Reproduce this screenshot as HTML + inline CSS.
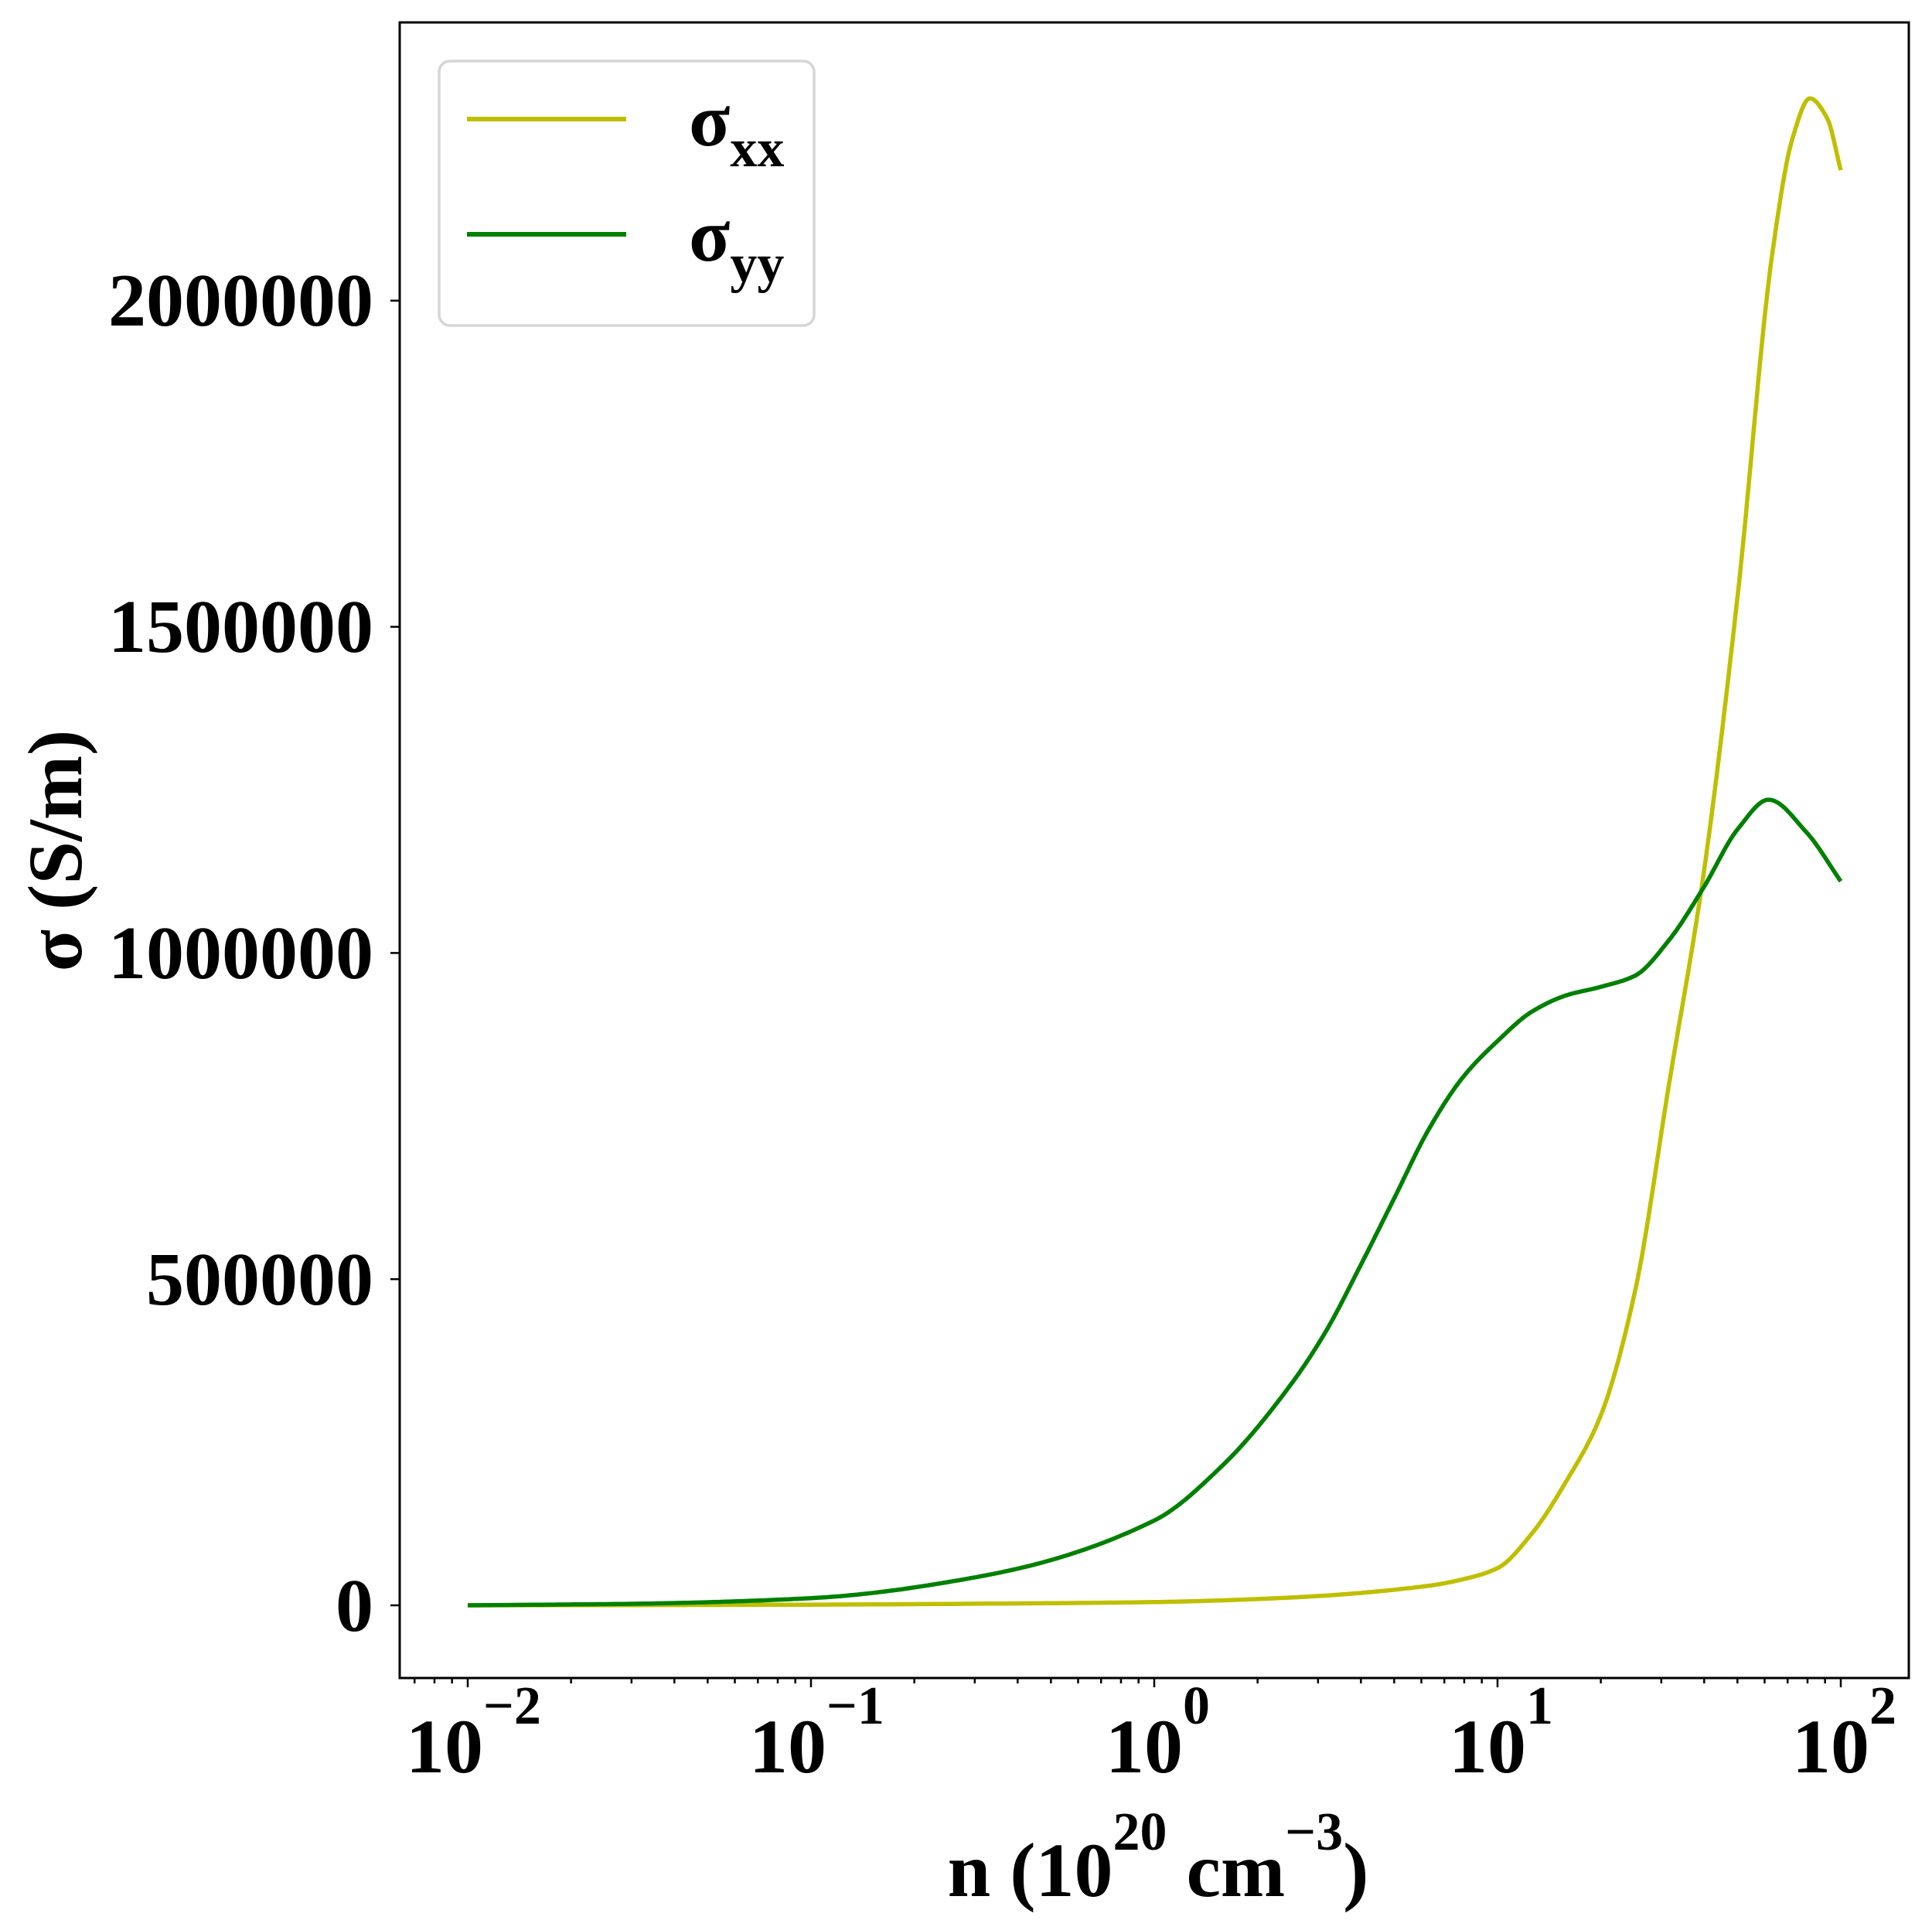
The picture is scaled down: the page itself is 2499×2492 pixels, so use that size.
<!DOCTYPE html>
<html><head><meta charset="utf-8"><style>
html,body{margin:0;padding:0;background:#fff}
svg{display:block}
text{font-family:"Liberation Serif",serif;font-weight:bold;fill:#000}
</style></head><body>
<svg id="s" width="2499" height="2492" viewBox="0 0 2499 2492" xmlns="http://www.w3.org/2000/svg">
<rect x="0" y="0" width="2499" height="2492" fill="#fff"/>
<g id="curves"></g>
<rect x="517" y="29" width="1952" height="2141" fill="none" stroke="#000" stroke-width="3"/>
<g id="ticks" stroke="#000" stroke-width="2.5"></g>
<g font-size="98" text-anchor="end">
<text x="483" y="2109">0</text>
<text x="483" y="1687">500000</text>
<text x="483" y="1265">1000000</text>
<text x="483" y="843">1500000</text>
<text x="483" y="421">2000000</text>
</g>
<g font-size="100">
<text x="525" y="2292">10<tspan font-size="70" dy="-63">−2</tspan></text>
<text x="969" y="2292">10<tspan font-size="70" dy="-63">−1</tspan></text>
<text x="1430" y="2292">10<tspan font-size="70" dy="-63">0</tspan></text>
<text x="1874" y="2292">10<tspan font-size="70" dy="-63">1</tspan></text>
<text x="2318" y="2292">10<tspan font-size="70" dy="-63">2</tspan></text>
</g>
<text x="1498" y="2452" font-size="100" text-anchor="middle">n (10<tspan font-size="70" dy="-60">20</tspan><tspan dy="60"> cm</tspan><tspan font-size="70" dy="-60">−3</tspan><tspan dy="60">)</tspan></text>
<text transform="translate(105,1100) rotate(-90)" font-size="100" text-anchor="middle">σ (S/m)</text>
<rect x="568" y="79" width="485" height="342" rx="14" fill="#fff" fill-opacity="0.8" stroke="#d6d6d6" stroke-width="3.5"/>
<line x1="604" y1="154" x2="810" y2="154" stroke="#bfbf00" stroke-width="6"/>
<line x1="604" y1="303" x2="810" y2="303" stroke="#008000" stroke-width="6"/>
<text x="891" y="188" font-size="98">σ<tspan font-size="70" dy="27">xx</tspan></text>
<text x="891" y="337" font-size="98">σ<tspan font-size="70" dy="27">yy</tspan></text>
</svg>
<script>
var X0=605,DEC=444,Y0=2076,YS=421.8/500000;
function px(l){return X0+(l+2)*DEC}
function py(v){return Y0-v*YS}
var ns="http://www.w3.org/2000/svg";
var t=document.getElementById('ticks');
function ln(x1,y1,x2,y2){var e=document.createElementNS(ns,'line');e.setAttribute('x1',x1);e.setAttribute('y1',y1);e.setAttribute('x2',x2);e.setAttribute('y2',y2);t.appendChild(e);}
for(var d=-3;d<=2;d++){for(var k=1;k<10;k++){var l=d+Math.log10(k);var x=px(l);if(x<518||x>2468)continue;
 if(k==1)ln(x,2170,x,2182);else ln(x,2170,x,2177);}}
for(var i=0;i<5;i++){var y=Y0-i*421.8;ln(505,y,517,y);}
function mono(pts){
 var n=pts.length,xs=pts.map(function(p){return p[0]}),ys=pts.map(function(p){return p[1]});
 var dl=[],m=[];
 for(var i=0;i<n-1;i++)dl.push((ys[i+1]-ys[i])/(xs[i+1]-xs[i]));
 m[0]=dl[0];m[n-1]=dl[n-2];
 for(var i=1;i<n-1;i++){ if(dl[i-1]*dl[i]<=0)m[i]=0; else{var w1=2*(xs[i+1]-xs[i])+(xs[i]-xs[i-1]),w2=(xs[i+1]-xs[i])+2*(xs[i]-xs[i-1]);m[i]=(w1+w2)/(w1/dl[i-1]+w2/dl[i]);}}
 var out=[];
 for(var i=0;i<n-1;i++){var h=xs[i+1]-xs[i];for(var s=0;s<30;s++){var u=s/30,h00=2*u*u*u-3*u*u+1,h10=u*u*u-2*u*u+u,h01=-2*u*u*u+3*u*u,h11=u*u*u-u*u;
  out.push([xs[i]+u*h,h00*ys[i]+h10*h*m[i]+h01*ys[i+1]+h11*h*m[i+1]]);}}
 out.push([xs[n-1],ys[n-1]]);return out;}
function path(pts,col){var q=mono(pts);
 var d='M'+q.map(function(p){return px(p[0]).toFixed(1)+','+py(p[1]).toFixed(1)}).join('L');
 var e=document.createElementNS(ns,'path');e.setAttribute('d',d);e.setAttribute('fill','none');e.setAttribute('stroke',col);e.setAttribute('stroke-width','5.5');e.setAttribute('stroke-linejoin','round');
 document.getElementById('curves').appendChild(e);}
var Y=[[-2,0],[-1.5,400],[-1,1000],[-0.5,2500],[0,5000],[0.4,12000],[0.8,30000],[0.9,40000],[1.0,57000],[1.1,110000],[1.2,190000],[1.3,290000],[1.4,480000],[1.5,800000],[1.6,1120000],[1.7,1550000],[1.8,2070000],[1.86,2250000],[1.91,2310000],[1.96,2280000],[2.0,2200000]];
var G=[[-2,0],[-1.5,2500],[-1,11000],[-0.5,45000],[0,130000],[0.2,215000],[0.4,340000],[0.5,420000],[0.6,520000],[0.7,625000],[0.8,730000],[0.9,810000],[1.0,865000],[1.1,910000],[1.2,935000],[1.3,948000],[1.4,965000],[1.5,1020000],[1.6,1100000],[1.7,1190000],[1.79,1235000],[1.9,1185000],[2.0,1110000]];
path(Y,'#bfbf00');path(G,'#008000');
</script>
</body></html>
